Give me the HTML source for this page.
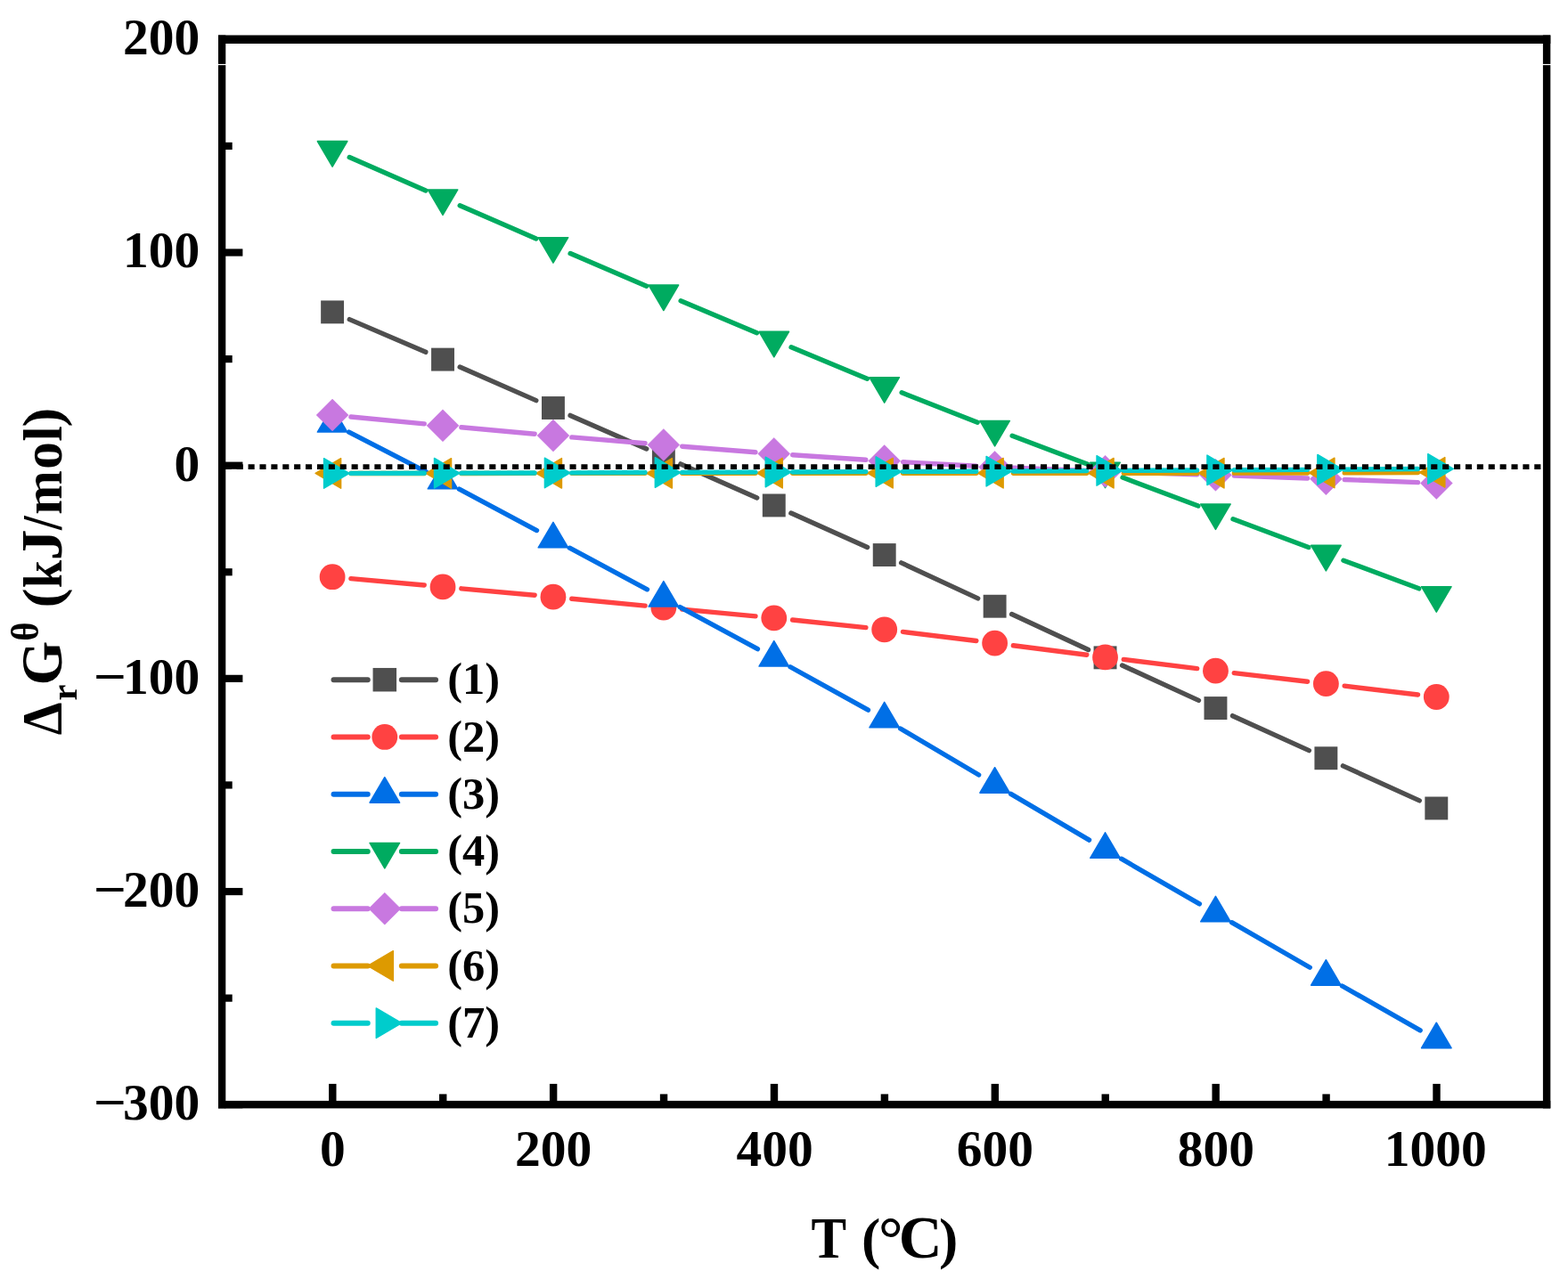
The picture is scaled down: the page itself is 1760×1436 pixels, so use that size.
<!DOCTYPE html>
<html lang="en">
<head>
<meta charset="utf-8">
<title>Gibbs free energy change versus temperature</title>
<style>
html,body{margin:0;padding:0;background:#fff;}
body{width:1760px;height:1436px;overflow:hidden;}
svg{display:block;}
text{font-family:"Liberation Serif",serif;font-weight:bold;fill:#000;}
</style>
</head>
<body>
<svg width="1760" height="1436" viewBox="0 0 1760 1436">
<rect x="0" y="0" width="1760" height="1436" fill="#fff"/>
<g id="series">
<g>
<line x1="392.3" y1="358.62" x2="477.82" y2="395.35" stroke="#4f4f4f" stroke-width="5.4" stroke-linecap="round"/>
<line x1="516.16" y1="412" x2="601.8" y2="449.61" stroke="#4f4f4f" stroke-width="5.4" stroke-linecap="round"/>
<line x1="640.08" y1="466.42" x2="725.72" y2="504.03" stroke="#4f4f4f" stroke-width="5.4" stroke-linecap="round"/>
<line x1="763.96" y1="520.91" x2="849.68" y2="558.97" stroke="#4f4f4f" stroke-width="5.4" stroke-linecap="round"/>
<line x1="887.85" y1="576.01" x2="973.63" y2="614.51" stroke="#4f4f4f" stroke-width="5.4" stroke-linecap="round"/>
<line x1="1011.65" y1="631.88" x2="1097.67" y2="671.9" stroke="#4f4f4f" stroke-width="5.4" stroke-linecap="round"/>
<line x1="1135.57" y1="689.53" x2="1221.59" y2="729.54" stroke="#4f4f4f" stroke-width="5.4" stroke-linecap="round"/>
<line x1="1259.55" y1="747.05" x2="1345.45" y2="786.35" stroke="#4f4f4f" stroke-width="5.4" stroke-linecap="round"/>
<line x1="1383.49" y1="803.68" x2="1469.35" y2="842.63" stroke="#4f4f4f" stroke-width="5.4" stroke-linecap="round"/>
<line x1="1507.41" y1="859.89" x2="1593.27" y2="898.84" stroke="#4f4f4f" stroke-width="5.4" stroke-linecap="round"/>
<rect x="360.15" y="337.43" width="25.9" height="25.9" fill="#4f4f4f"/>
<rect x="484.07" y="390.65" width="25.9" height="25.9" fill="#4f4f4f"/>
<rect x="607.99" y="445.07" width="25.9" height="25.9" fill="#4f4f4f"/>
<rect x="731.91" y="499.48" width="25.9" height="25.9" fill="#4f4f4f"/>
<rect x="855.83" y="554.5" width="25.9" height="25.9" fill="#4f4f4f"/>
<rect x="979.75" y="610.11" width="25.9" height="25.9" fill="#4f4f4f"/>
<rect x="1103.67" y="667.76" width="25.9" height="25.9" fill="#4f4f4f"/>
<rect x="1227.59" y="725.41" width="25.9" height="25.9" fill="#4f4f4f"/>
<rect x="1351.51" y="782.1" width="25.9" height="25.9" fill="#4f4f4f"/>
<rect x="1475.43" y="838.31" width="25.9" height="25.9" fill="#4f4f4f"/>
<rect x="1599.35" y="894.52" width="25.9" height="25.9" fill="#4f4f4f"/>
</g>
<g>
<line x1="393.91" y1="649.59" x2="476.21" y2="657.06" stroke="#ff4242" stroke-width="5.4" stroke-linecap="round"/>
<line x1="517.83" y1="660.83" x2="600.13" y2="668.3" stroke="#ff4242" stroke-width="5.4" stroke-linecap="round"/>
<line x1="641.74" y1="672.19" x2="724.06" y2="680.14" stroke="#ff4242" stroke-width="5.4" stroke-linecap="round"/>
<line x1="765.67" y1="684.11" x2="847.97" y2="691.9" stroke="#ff4242" stroke-width="5.4" stroke-linecap="round"/>
<line x1="889.57" y1="696.03" x2="971.91" y2="704.62" stroke="#ff4242" stroke-width="5.4" stroke-linecap="round"/>
<line x1="1013.44" y1="709.35" x2="1095.88" y2="719.53" stroke="#ff4242" stroke-width="5.4" stroke-linecap="round"/>
<line x1="1137.35" y1="724.73" x2="1219.81" y2="735.24" stroke="#ff4242" stroke-width="5.4" stroke-linecap="round"/>
<line x1="1261.28" y1="740.44" x2="1343.72" y2="750.63" stroke="#ff4242" stroke-width="5.4" stroke-linecap="round"/>
<line x1="1385.22" y1="755.61" x2="1467.62" y2="765.24" stroke="#ff4242" stroke-width="5.4" stroke-linecap="round"/>
<line x1="1509.13" y1="770.14" x2="1591.55" y2="780.01" stroke="#ff4242" stroke-width="5.4" stroke-linecap="round"/>
<circle cx="373.1" cy="647.7" r="14.4" fill="#ff4242"/>
<circle cx="497.02" cy="658.94" r="14.4" fill="#ff4242"/>
<circle cx="620.94" cy="670.19" r="14.4" fill="#ff4242"/>
<circle cx="744.86" cy="682.15" r="14.4" fill="#ff4242"/>
<circle cx="868.78" cy="693.87" r="14.4" fill="#ff4242"/>
<circle cx="992.7" cy="706.78" r="14.4" fill="#ff4242"/>
<circle cx="1116.62" cy="722.09" r="14.4" fill="#ff4242"/>
<circle cx="1240.54" cy="737.88" r="14.4" fill="#ff4242"/>
<circle cx="1364.46" cy="753.19" r="14.4" fill="#ff4242"/>
<circle cx="1488.38" cy="767.66" r="14.4" fill="#ff4242"/>
<circle cx="1612.3" cy="782.49" r="14.4" fill="#ff4242"/>
</g>
<g>
<line x1="391.68" y1="485.12" x2="478.44" y2="529.78" stroke="#006fe6" stroke-width="5.4" stroke-linecap="round"/>
<line x1="515.47" y1="549.17" x2="602.49" y2="595.54" stroke="#006fe6" stroke-width="5.4" stroke-linecap="round"/>
<line x1="639.37" y1="615.22" x2="726.43" y2="661.77" stroke="#006fe6" stroke-width="5.4" stroke-linecap="round"/>
<line x1="763.25" y1="681.56" x2="850.39" y2="728.66" stroke="#006fe6" stroke-width="5.4" stroke-linecap="round"/>
<line x1="887.05" y1="748.74" x2="974.43" y2="797.23" stroke="#006fe6" stroke-width="5.4" stroke-linecap="round"/>
<line x1="1010.69" y1="818.01" x2="1098.63" y2="870.04" stroke="#006fe6" stroke-width="5.4" stroke-linecap="round"/>
<line x1="1134.62" y1="891.3" x2="1222.54" y2="943.14" stroke="#006fe6" stroke-width="5.4" stroke-linecap="round"/>
<line x1="1258.64" y1="964.21" x2="1346.36" y2="1014.83" stroke="#006fe6" stroke-width="5.4" stroke-linecap="round"/>
<line x1="1382.57" y1="1035.71" x2="1470.27" y2="1086.25" stroke="#006fe6" stroke-width="5.4" stroke-linecap="round"/>
<line x1="1506.54" y1="1107.02" x2="1594.14" y2="1156.9" stroke="#006fe6" stroke-width="5.4" stroke-linecap="round"/>
<polygon points="356.35,485.05 389.85,485.05 373.1,456.55" fill="#006fe6" stroke="#006fe6" stroke-width="1.5" stroke-linejoin="round"/>
<polygon points="480.27,548.84 513.77,548.84 497.02,520.34" fill="#006fe6" stroke="#006fe6" stroke-width="1.5" stroke-linejoin="round"/>
<polygon points="604.19,614.86 637.69,614.86 620.94,586.36" fill="#006fe6" stroke="#006fe6" stroke-width="1.5" stroke-linejoin="round"/>
<polygon points="728.11,681.12 761.61,681.12 744.86,652.62" fill="#006fe6" stroke="#006fe6" stroke-width="1.5" stroke-linejoin="round"/>
<polygon points="852.03,748.1 885.53,748.1 868.78,719.6" fill="#006fe6" stroke="#006fe6" stroke-width="1.5" stroke-linejoin="round"/>
<polygon points="975.95,816.87 1009.45,816.87 992.7,788.37" fill="#006fe6" stroke="#006fe6" stroke-width="1.5" stroke-linejoin="round"/>
<polygon points="1099.87,890.18 1133.37,890.18 1116.62,861.68" fill="#006fe6" stroke="#006fe6" stroke-width="1.5" stroke-linejoin="round"/>
<polygon points="1223.79,963.26 1257.29,963.26 1240.54,934.76" fill="#006fe6" stroke="#006fe6" stroke-width="1.5" stroke-linejoin="round"/>
<polygon points="1347.71,1034.78 1381.21,1034.78 1364.46,1006.28" fill="#006fe6" stroke="#006fe6" stroke-width="1.5" stroke-linejoin="round"/>
<polygon points="1471.63,1106.18 1505.13,1106.18 1488.38,1077.68" fill="#006fe6" stroke="#006fe6" stroke-width="1.5" stroke-linejoin="round"/>
<polygon points="1595.55,1176.74 1629.05,1176.74 1612.3,1148.24" fill="#006fe6" stroke="#006fe6" stroke-width="1.5" stroke-linejoin="round"/>
</g>
<g>
<line x1="392.24" y1="176.49" x2="477.88" y2="214.02" stroke="#00ab60" stroke-width="5.4" stroke-linecap="round"/>
<line x1="516.19" y1="230.73" x2="601.77" y2="267.9" stroke="#00ab60" stroke-width="5.4" stroke-linecap="round"/>
<line x1="640.14" y1="284.49" x2="725.66" y2="321.3" stroke="#00ab60" stroke-width="5.4" stroke-linecap="round"/>
<line x1="764.12" y1="337.69" x2="849.52" y2="373.71" stroke="#00ab60" stroke-width="5.4" stroke-linecap="round"/>
<line x1="888.09" y1="389.83" x2="973.39" y2="425.14" stroke="#00ab60" stroke-width="5.4" stroke-linecap="round"/>
<line x1="1012.15" y1="440.8" x2="1097.17" y2="474.28" stroke="#00ab60" stroke-width="5.4" stroke-linecap="round"/>
<line x1="1136.17" y1="489.32" x2="1220.99" y2="521.32" stroke="#00ab60" stroke-width="5.4" stroke-linecap="round"/>
<line x1="1260.09" y1="536.08" x2="1344.91" y2="568.08" stroke="#00ab60" stroke-width="5.4" stroke-linecap="round"/>
<line x1="1384.03" y1="582.79" x2="1468.81" y2="614.54" stroke="#00ab60" stroke-width="5.4" stroke-linecap="round"/>
<line x1="1507.96" y1="629.18" x2="1592.72" y2="660.84" stroke="#00ab60" stroke-width="5.4" stroke-linecap="round"/>
<polygon points="356.35,158.61 389.85,158.61 373.1,187.11" fill="#00ab60" stroke="#00ab60" stroke-width="1.5" stroke-linejoin="round"/>
<polygon points="480.27,212.9 513.77,212.9 497.02,241.4" fill="#00ab60" stroke="#00ab60" stroke-width="1.5" stroke-linejoin="round"/>
<polygon points="604.19,266.72 637.69,266.72 620.94,295.22" fill="#00ab60" stroke="#00ab60" stroke-width="1.5" stroke-linejoin="round"/>
<polygon points="728.11,320.07 761.61,320.07 744.86,348.57" fill="#00ab60" stroke="#00ab60" stroke-width="1.5" stroke-linejoin="round"/>
<polygon points="852.03,372.33 885.53,372.33 868.78,400.83" fill="#00ab60" stroke="#00ab60" stroke-width="1.5" stroke-linejoin="round"/>
<polygon points="975.95,423.64 1009.45,423.64 992.7,452.14" fill="#00ab60" stroke="#00ab60" stroke-width="1.5" stroke-linejoin="round"/>
<polygon points="1099.87,472.44 1133.37,472.44 1116.62,500.94" fill="#00ab60" stroke="#00ab60" stroke-width="1.5" stroke-linejoin="round"/>
<polygon points="1223.79,519.2 1257.29,519.2 1240.54,547.7" fill="#00ab60" stroke="#00ab60" stroke-width="1.5" stroke-linejoin="round"/>
<polygon points="1347.71,565.96 1381.21,565.96 1364.46,594.46" fill="#00ab60" stroke="#00ab60" stroke-width="1.5" stroke-linejoin="round"/>
<polygon points="1471.63,612.37 1505.13,612.37 1488.38,640.87" fill="#00ab60" stroke="#00ab60" stroke-width="1.5" stroke-linejoin="round"/>
<polygon points="1595.55,658.65 1629.05,658.65 1612.3,687.15" fill="#00ab60" stroke="#00ab60" stroke-width="1.5" stroke-linejoin="round"/>
</g>
<g>
<line x1="393.91" y1="468.02" x2="476.21" y2="475.88" stroke="#c878e0" stroke-width="5.4" stroke-linecap="round"/>
<line x1="517.83" y1="479.76" x2="600.13" y2="487.22" stroke="#c878e0" stroke-width="5.4" stroke-linecap="round"/>
<line x1="641.77" y1="490.86" x2="724.03" y2="497.77" stroke="#c878e0" stroke-width="5.4" stroke-linecap="round"/>
<line x1="765.69" y1="501.19" x2="847.95" y2="507.78" stroke="#c878e0" stroke-width="5.4" stroke-linecap="round"/>
<line x1="889.64" y1="510.81" x2="971.84" y2="516.21" stroke="#c878e0" stroke-width="5.4" stroke-linecap="round"/>
<line x1="1013.57" y1="518.73" x2="1095.75" y2="523.27" stroke="#c878e0" stroke-width="5.4" stroke-linecap="round"/>
<line x1="1137.5" y1="525.24" x2="1219.66" y2="528.48" stroke="#c878e0" stroke-width="5.4" stroke-linecap="round"/>
<line x1="1261.43" y1="529.98" x2="1343.57" y2="532.68" stroke="#c878e0" stroke-width="5.4" stroke-linecap="round"/>
<line x1="1385.35" y1="534.09" x2="1467.49" y2="536.94" stroke="#c878e0" stroke-width="5.4" stroke-linecap="round"/>
<line x1="1509.26" y1="538.48" x2="1591.42" y2="541.65" stroke="#c878e0" stroke-width="5.4" stroke-linecap="round"/>
<polygon points="355.1,466.03 373.1,448.03 391.1,466.03 373.1,484.03" fill="#c878e0" stroke="#c878e0" stroke-width="0.5" stroke-linejoin="round"/>
<polygon points="479.02,477.87 497.02,459.87 515.02,477.87 497.02,495.87" fill="#c878e0" stroke="#c878e0" stroke-width="0.5" stroke-linejoin="round"/>
<polygon points="602.94,489.11 620.94,471.11 638.94,489.11 620.94,507.11" fill="#c878e0" stroke="#c878e0" stroke-width="0.5" stroke-linejoin="round"/>
<polygon points="726.86,499.52 744.86,481.52 762.86,499.52 744.86,517.52" fill="#c878e0" stroke="#c878e0" stroke-width="0.5" stroke-linejoin="round"/>
<polygon points="850.78,509.44 868.78,491.44 886.78,509.44 868.78,527.44" fill="#c878e0" stroke="#c878e0" stroke-width="0.5" stroke-linejoin="round"/>
<polygon points="974.7,517.58 992.7,499.58 1010.7,517.58 992.7,535.58" fill="#c878e0" stroke="#c878e0" stroke-width="0.5" stroke-linejoin="round"/>
<polygon points="1098.62,524.42 1116.62,506.42 1134.62,524.42 1116.62,542.42" fill="#c878e0" stroke="#c878e0" stroke-width="0.5" stroke-linejoin="round"/>
<polygon points="1222.54,529.3 1240.54,511.3 1258.54,529.3 1240.54,547.3" fill="#c878e0" stroke="#c878e0" stroke-width="0.5" stroke-linejoin="round"/>
<polygon points="1346.46,533.36 1364.46,515.36 1382.46,533.36 1364.46,551.36" fill="#c878e0" stroke="#c878e0" stroke-width="0.5" stroke-linejoin="round"/>
<polygon points="1470.38,537.67 1488.38,519.67 1506.38,537.67 1488.38,555.67" fill="#c878e0" stroke="#c878e0" stroke-width="0.5" stroke-linejoin="round"/>
<polygon points="1594.3,542.45 1612.3,524.45 1630.3,542.45 1612.3,560.45" fill="#c878e0" stroke="#c878e0" stroke-width="0.5" stroke-linejoin="round"/>
</g>
<g>
<line x1="394" y1="531.45" x2="476.12" y2="531.45" stroke="#dd9a00" stroke-width="5.4" stroke-linecap="round"/>
<line x1="517.92" y1="531.43" x2="600.04" y2="531.35" stroke="#dd9a00" stroke-width="5.4" stroke-linecap="round"/>
<line x1="641.84" y1="531.33" x2="723.96" y2="531.33" stroke="#dd9a00" stroke-width="5.4" stroke-linecap="round"/>
<line x1="765.76" y1="531.31" x2="847.88" y2="531.23" stroke="#dd9a00" stroke-width="5.4" stroke-linecap="round"/>
<line x1="889.68" y1="531.21" x2="971.8" y2="531.21" stroke="#dd9a00" stroke-width="5.4" stroke-linecap="round"/>
<line x1="1013.6" y1="531.21" x2="1095.72" y2="531.21" stroke="#dd9a00" stroke-width="5.4" stroke-linecap="round"/>
<line x1="1137.52" y1="531.21" x2="1219.64" y2="531.21" stroke="#dd9a00" stroke-width="5.4" stroke-linecap="round"/>
<line x1="1261.44" y1="531.21" x2="1343.56" y2="531.21" stroke="#dd9a00" stroke-width="5.4" stroke-linecap="round"/>
<line x1="1385.36" y1="531.17" x2="1467.48" y2="531.01" stroke="#dd9a00" stroke-width="5.4" stroke-linecap="round"/>
<line x1="1509.28" y1="530.87" x2="1591.4" y2="530.47" stroke="#dd9a00" stroke-width="5.4" stroke-linecap="round"/>
<polygon points="382.6,514.7 382.6,548.2 354.1,531.45" fill="#dd9a00" stroke="#dd9a00" stroke-width="1.5" stroke-linejoin="round"/>
<polygon points="506.52,514.7 506.52,548.2 478.02,531.45" fill="#dd9a00" stroke="#dd9a00" stroke-width="1.5" stroke-linejoin="round"/>
<polygon points="630.44,514.58 630.44,548.08 601.94,531.33" fill="#dd9a00" stroke="#dd9a00" stroke-width="1.5" stroke-linejoin="round"/>
<polygon points="754.36,514.58 754.36,548.08 725.86,531.33" fill="#dd9a00" stroke="#dd9a00" stroke-width="1.5" stroke-linejoin="round"/>
<polygon points="878.28,514.46 878.28,547.96 849.78,531.21" fill="#dd9a00" stroke="#dd9a00" stroke-width="1.5" stroke-linejoin="round"/>
<polygon points="1002.2,514.46 1002.2,547.96 973.7,531.21" fill="#dd9a00" stroke="#dd9a00" stroke-width="1.5" stroke-linejoin="round"/>
<polygon points="1126.12,514.46 1126.12,547.96 1097.62,531.21" fill="#dd9a00" stroke="#dd9a00" stroke-width="1.5" stroke-linejoin="round"/>
<polygon points="1250.04,514.46 1250.04,547.96 1221.54,531.21" fill="#dd9a00" stroke="#dd9a00" stroke-width="1.5" stroke-linejoin="round"/>
<polygon points="1373.96,514.46 1373.96,547.96 1345.46,531.21" fill="#dd9a00" stroke="#dd9a00" stroke-width="1.5" stroke-linejoin="round"/>
<polygon points="1497.88,514.22 1497.88,547.72 1469.38,530.97" fill="#dd9a00" stroke="#dd9a00" stroke-width="1.5" stroke-linejoin="round"/>
<polygon points="1621.8,513.62 1621.8,547.12 1593.3,530.37" fill="#dd9a00" stroke="#dd9a00" stroke-width="1.5" stroke-linejoin="round"/>
</g>
<g>
<line x1="394" y1="531.41" x2="476.12" y2="531.25" stroke="#00cccc" stroke-width="5.4" stroke-linecap="round"/>
<line x1="517.92" y1="531.17" x2="600.04" y2="531.01" stroke="#00cccc" stroke-width="5.4" stroke-linecap="round"/>
<line x1="641.84" y1="530.89" x2="723.96" y2="530.57" stroke="#00cccc" stroke-width="5.4" stroke-linecap="round"/>
<line x1="765.76" y1="530.41" x2="847.88" y2="530.1" stroke="#00cccc" stroke-width="5.4" stroke-linecap="round"/>
<line x1="889.68" y1="529.93" x2="971.8" y2="529.62" stroke="#00cccc" stroke-width="5.4" stroke-linecap="round"/>
<line x1="1013.6" y1="529.48" x2="1095.72" y2="529.24" stroke="#00cccc" stroke-width="5.4" stroke-linecap="round"/>
<line x1="1137.52" y1="529.06" x2="1219.64" y2="528.58" stroke="#00cccc" stroke-width="5.4" stroke-linecap="round"/>
<line x1="1261.44" y1="528.36" x2="1343.56" y2="527.96" stroke="#00cccc" stroke-width="5.4" stroke-linecap="round"/>
<line x1="1385.36" y1="527.76" x2="1467.48" y2="527.37" stroke="#00cccc" stroke-width="5.4" stroke-linecap="round"/>
<line x1="1509.28" y1="527.12" x2="1591.4" y2="526.57" stroke="#00cccc" stroke-width="5.4" stroke-linecap="round"/>
<polygon points="363.6,514.7 363.6,548.2 392.1,531.45" fill="#00cccc" stroke="#00cccc" stroke-width="1.5" stroke-linejoin="round"/>
<polygon points="487.52,514.46 487.52,547.96 516.02,531.21" fill="#00cccc" stroke="#00cccc" stroke-width="1.5" stroke-linejoin="round"/>
<polygon points="611.44,514.22 611.44,547.72 639.94,530.97" fill="#00cccc" stroke="#00cccc" stroke-width="1.5" stroke-linejoin="round"/>
<polygon points="735.36,513.74 735.36,547.24 763.86,530.49" fill="#00cccc" stroke="#00cccc" stroke-width="1.5" stroke-linejoin="round"/>
<polygon points="859.28,513.27 859.28,546.77 887.78,530.02" fill="#00cccc" stroke="#00cccc" stroke-width="1.5" stroke-linejoin="round"/>
<polygon points="983.2,512.79 983.2,546.29 1011.7,529.54" fill="#00cccc" stroke="#00cccc" stroke-width="1.5" stroke-linejoin="round"/>
<polygon points="1107.12,512.43 1107.12,545.93 1135.62,529.18" fill="#00cccc" stroke="#00cccc" stroke-width="1.5" stroke-linejoin="round"/>
<polygon points="1231.04,511.71 1231.04,545.21 1259.54,528.46" fill="#00cccc" stroke="#00cccc" stroke-width="1.5" stroke-linejoin="round"/>
<polygon points="1354.96,511.11 1354.96,544.61 1383.46,527.86" fill="#00cccc" stroke="#00cccc" stroke-width="1.5" stroke-linejoin="round"/>
<polygon points="1478.88,510.51 1478.88,544.01 1507.38,527.26" fill="#00cccc" stroke="#00cccc" stroke-width="1.5" stroke-linejoin="round"/>
<polygon points="1602.8,509.68 1602.8,543.18 1631.3,526.43" fill="#00cccc" stroke="#00cccc" stroke-width="1.5" stroke-linejoin="round"/>
</g>
</g>
<line x1="252.8" y1="524.2" x2="1732" y2="524.2" stroke="#000" stroke-width="5.7" stroke-dasharray="7.1 5.79"/>
<g id="axes" fill="#000">
<rect x="245" y="39.5" width="8.3" height="1204.9"/>
<rect x="1731.9" y="39.5" width="8.4" height="1204.9"/>
<rect x="245" y="39.5" width="1495.3" height="9.5"/>
<rect x="245" y="1235.9" width="1495.3" height="8.5"/>
<rect x="252.3" y="1236.1" width="20.1" height="8.2"/>
<rect x="252.3" y="1116.52" width="8.4" height="8.2"/>
<rect x="252.3" y="996.93" width="20.1" height="8.2"/>
<rect x="252.3" y="877.35" width="8.4" height="8.2"/>
<rect x="252.3" y="757.76" width="20.1" height="8.2"/>
<rect x="252.3" y="638.18" width="8.4" height="8.2"/>
<rect x="252.3" y="518.59" width="20.1" height="8.2"/>
<rect x="252.3" y="399.01" width="8.4" height="8.2"/>
<rect x="252.3" y="279.42" width="20.1" height="8.2"/>
<rect x="252.3" y="159.84" width="8.4" height="8.2"/>
<rect x="252.3" y="40.25" width="20.1" height="8.2"/>
<rect x="369.1" y="1216.9" width="8.4" height="20"/>
<rect x="493.02" y="1228.4" width="8.4" height="8.5"/>
<rect x="616.94" y="1216.9" width="8.4" height="20"/>
<rect x="740.86" y="1228.4" width="8.4" height="8.5"/>
<rect x="864.78" y="1216.9" width="8.4" height="20"/>
<rect x="988.7" y="1228.4" width="8.4" height="8.5"/>
<rect x="1112.62" y="1216.9" width="8.4" height="20"/>
<rect x="1236.54" y="1228.4" width="8.4" height="8.5"/>
<rect x="1360.46" y="1216.9" width="8.4" height="20"/>
<rect x="1484.38" y="1228.4" width="8.4" height="8.5"/>
<rect x="1608.3" y="1216.9" width="8.4" height="20"/>
</g>
<rect x="240" y="71.9" width="18" height="1.2" fill="#fff"/>
<rect x="1727" y="71.9" width="18" height="1.2" fill="#fff"/>
<g id="ticklabels" font-size="57.5">
<text y="1257.1"><tspan x="104.66" textLength="37.19" lengthAdjust="spacingAndGlyphs">−</tspan><tspan x="138.04">300</tspan></text>
<text y="1017.93"><tspan x="104.66" textLength="37.19" lengthAdjust="spacingAndGlyphs">−</tspan><tspan x="138.04">200</tspan></text>
<text y="778.76"><tspan x="104.66" textLength="37.19" lengthAdjust="spacingAndGlyphs">−</tspan><tspan x="138.04">100</tspan></text>
<text x="195.54" y="539.59">0</text>
<text x="138.04" y="300.42">100</text>
<text x="138.04" y="61.25">200</text>
<text x="358.93" y="1308.9">0</text>
<text x="577.9" y="1308.9">200</text>
<text x="826.56" y="1308.9">400</text>
<text x="1073.81" y="1308.9">600</text>
<text x="1321.68" y="1308.9">800</text>
<text x="1553.79" y="1308.9">1000</text>
</g>
<text id="xtitle" font-size="65"><tspan x="910.49" y="1411.7" font-size="65.6" textLength="39.6" lengthAdjust="spacingAndGlyphs">T</tspan><tspan x="958" y="1411.7" font-size="65"> </tspan><tspan x="967.07" y="1411.6" font-size="64">(</tspan><tspan x="985.94" y="1414" font-size="69">°</tspan><tspan x="1008.75" y="1412.3" font-size="67.5">C</tspan><tspan x="1054.12" y="1411.6" font-size="64">)</tspan></text>
<text id="ytitle" transform="translate(68.5 824.5) rotate(-90)" font-size="63"><tspan x="-0.84" y="0" font-size="64.3" textLength="36.68" lengthAdjust="spacingAndGlyphs">Δ</tspan><tspan x="37.94" y="17.1" font-size="42" textLength="17.9" lengthAdjust="spacingAndGlyphs">r</tspan><tspan x="55.36" y="0.3" font-size="64.5" textLength="49.42" lengthAdjust="spacingAndGlyphs">G</tspan><tspan x="104.74" y="-25.3" font-size="43.5" textLength="21.34" lengthAdjust="spacingAndGlyphs">θ</tspan><tspan x="128" y="0" font-size="63"> </tspan><tspan x="142.03" y="-0.4" font-size="60.5" textLength="22.16" lengthAdjust="spacingAndGlyphs">(</tspan><tspan x="164.34" y="0" font-size="62" textLength="31.21" lengthAdjust="spacingAndGlyphs">k</tspan><tspan x="195.29" y="0" font-size="64.5" textLength="34.83" lengthAdjust="spacingAndGlyphs">J</tspan><tspan x="229.46" y="0" font-size="64" textLength="15.65" lengthAdjust="spacingAndGlyphs">/</tspan><tspan x="246.82" y="0" font-size="62" textLength="49.58" lengthAdjust="spacingAndGlyphs">m</tspan><tspan x="297.64" y="0" font-size="63" textLength="30.71" lengthAdjust="spacingAndGlyphs">o</tspan><tspan x="328.72" y="0" font-size="61.5" textLength="17.6" lengthAdjust="spacingAndGlyphs">l</tspan><tspan x="344.71" y="-0.4" font-size="60.5" textLength="22.16" lengthAdjust="spacingAndGlyphs">)</tspan></text>
<g id="legend" font-size="50.5">
<line x1="374.5" y1="763.2" x2="412.8" y2="763.2" stroke="#4f4f4f" stroke-width="5.9" stroke-linecap="round"/>
<line x1="450.8" y1="763.2" x2="489.1" y2="763.2" stroke="#4f4f4f" stroke-width="5.9" stroke-linecap="round"/>
<rect x="418.55" y="749.95" width="26.5" height="26.5" fill="#4f4f4f"/>
<text x="502.2" y="779.4">(1)</text>
<line x1="374.5" y1="827.45" x2="412.8" y2="827.45" stroke="#ff4242" stroke-width="5.9" stroke-linecap="round"/>
<line x1="450.8" y1="827.45" x2="489.1" y2="827.45" stroke="#ff4242" stroke-width="5.9" stroke-linecap="round"/>
<circle cx="431.8" cy="827.45" r="14.4" fill="#ff4242"/>
<text x="502.2" y="843.65">(2)</text>
<line x1="374.5" y1="891.7" x2="412.8" y2="891.7" stroke="#006fe6" stroke-width="5.9" stroke-linecap="round"/>
<line x1="450.8" y1="891.7" x2="489.1" y2="891.7" stroke="#006fe6" stroke-width="5.9" stroke-linecap="round"/>
<polygon points="415.05,901.2 448.55,901.2 431.8,872.7" fill="#006fe6" stroke="#006fe6" stroke-width="1.5" stroke-linejoin="round"/>
<text x="502.2" y="907.9">(3)</text>
<line x1="374.5" y1="955.95" x2="412.8" y2="955.95" stroke="#00ab60" stroke-width="5.9" stroke-linecap="round"/>
<line x1="450.8" y1="955.95" x2="489.1" y2="955.95" stroke="#00ab60" stroke-width="5.9" stroke-linecap="round"/>
<polygon points="415.05,946.45 448.55,946.45 431.8,974.95" fill="#00ab60" stroke="#00ab60" stroke-width="1.5" stroke-linejoin="round"/>
<text x="502.2" y="972.15">(4)</text>
<line x1="374.5" y1="1020.2" x2="412.8" y2="1020.2" stroke="#c878e0" stroke-width="5.9" stroke-linecap="round"/>
<line x1="450.8" y1="1020.2" x2="489.1" y2="1020.2" stroke="#c878e0" stroke-width="5.9" stroke-linecap="round"/>
<polygon points="413.8,1020.2 431.8,1002.2 449.8,1020.2 431.8,1038.2" fill="#c878e0" stroke="#c878e0" stroke-width="0.5" stroke-linejoin="round"/>
<text x="502.2" y="1036.4">(5)</text>
<line x1="374.5" y1="1084.45" x2="412.8" y2="1084.45" stroke="#dd9a00" stroke-width="5.9" stroke-linecap="round"/>
<line x1="450.8" y1="1084.45" x2="489.1" y2="1084.45" stroke="#dd9a00" stroke-width="5.9" stroke-linecap="round"/>
<polygon points="441.3,1067.7 441.3,1101.2 412.8,1084.45" fill="#dd9a00" stroke="#dd9a00" stroke-width="1.5" stroke-linejoin="round"/>
<text x="502.2" y="1100.65">(6)</text>
<line x1="374.5" y1="1148.7" x2="412.8" y2="1148.7" stroke="#00cccc" stroke-width="5.9" stroke-linecap="round"/>
<line x1="450.8" y1="1148.7" x2="489.1" y2="1148.7" stroke="#00cccc" stroke-width="5.9" stroke-linecap="round"/>
<polygon points="422.3,1131.95 422.3,1165.45 450.8,1148.7" fill="#00cccc" stroke="#00cccc" stroke-width="1.5" stroke-linejoin="round"/>
<text x="502.2" y="1164.9">(7)</text>
</g>
</svg>
</body>
</html>
